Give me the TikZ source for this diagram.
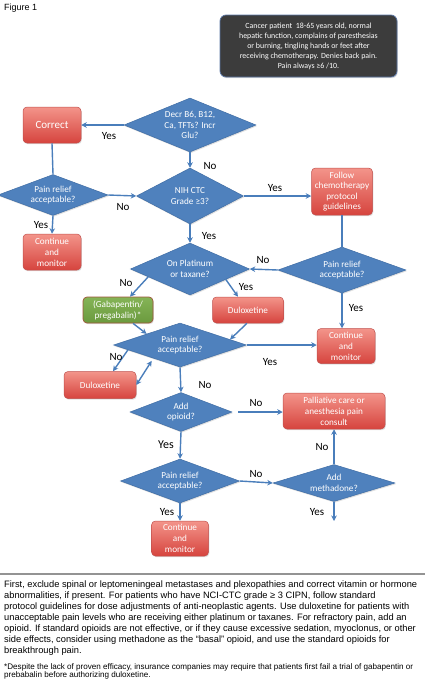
\documentclass[tikz,border=0pt]{standalone}
\usepackage{fontspec}
\setmainfont{Liberation Sans}
\newfontfamily\dfont{Carlito}
\usetikzlibrary{shapes.geometric,arrows.meta,calc,shadows}
\definecolor{dblue}{HTML}{4F81BD}
\definecolor{dblueb}{HTML}{3F6DA5}
\definecolor{arr}{HTML}{4A7EBB}
\definecolor{rtop}{HTML}{F3948A}
\definecolor{rbot}{HTML}{D6443E}
\definecolor{rbord}{HTML}{C0504D}
\definecolor{gtop}{HTML}{85B457}
\definecolor{gbot}{HTML}{6B9A3E}
\definecolor{gbord}{HTML}{A0553A}
\definecolor{darkbox}{HTML}{3C3C3C}
\definecolor{darkbord}{HTML}{5B77A6}
\tikzset{
  shd/.style={drop shadow={opacity=0.25,shadow xshift=0.8pt,shadow yshift=-1.2pt}},
  dia/.style={diamond, fill=dblue, draw=dblueb, line width=0.5pt, inner sep=0pt,
    text=white, align=center, font=\dfont\fontsize{9.2}{10.6}\selectfont, shd},
  rbox/.style={rectangle, rounded corners=4pt, top color=rtop, bottom color=rbot,
    draw=rbord, line width=0.5pt, text=white, align=center, inner sep=0pt,
    font=\dfont\fontsize{9.2}{11}\selectfont, shd},
  gbox/.style={rbox, top color=gtop, bottom color=gbot, draw=gbord, line width=0.7pt},
  conn/.style={draw=arr, line width=1.4pt, -{Stealth[length=5.5pt,width=5.5pt]}},
  plain/.style={draw=arr, line width=1.4pt},
  lbl/.style={font=\dfont\fontsize{11}{12}\selectfont, text=black, inner sep=0pt}
}
\begin{document}
\begin{tikzpicture}[x=1pt,y=-1pt]
\useasboundingbox (0,0) rectangle (425,691);
\fill[white] (0,0) rectangle (425,691);

\node[anchor=west, font=\fontsize{9}{10}\selectfont, inner sep=0pt] (fig) at (4,8) {Figure 1};

\node[rectangle, rounded corners=6pt, fill=darkbox, draw=darkbord, line width=0.7pt,
  minimum width=177pt, minimum height=62pt, text=white, align=center, inner sep=0pt,
  font=\dfont\fontsize{7.9}{10}\selectfont, shd] (info) at (308.5,46)
  {Cancer patient\ \ 18-65 years old, normal\\hepatic function, complains of paresthesias\\or burning, tingling hands or feet after\\receiving chemotherapy. Denies back pain.\\Pain always ≥6 /10.};

% diamonds
\node[dia, shape aspect=2.4, minimum width=132pt, minimum height=54pt] (d1) at (190,125) {Decr B6, B12,\\Ca, TFTs? Incr\\Glu?};
\node[dia, shape aspect=2.6, minimum width=110pt, minimum height=41pt] (pr1) at (53,195) {Pain relief\\acceptable?};
\node[dia, shape aspect=2.2, minimum width=107pt, minimum height=56pt] (nih) at (190,196) {NIH CTC\\Grade ≥3?};
\node[dia, shape aspect=2.6, minimum width=128pt, minimum height=46pt] (pr2) at (342,270) {Pain relief\\acceptable?};
\node[dia, shape aspect=2.3, minimum width=119pt, minimum height=52pt] (plat) at (190,269) {On Platinum\\or taxane?};
\node[dia, shape aspect=2.6, minimum width=133pt, minimum height=44pt] (pr3) at (180,345) {Pain relief\\acceptable?};
\node[dia, shape aspect=2.6, minimum width=102pt, minimum height=39pt] (op) at (181,412) {Add\\opioid?};
\node[dia, shape aspect=2.6, minimum width=119pt, minimum height=44pt] (pr4) at (180,481) {Pain relief\\acceptable?};
\node[dia, shape aspect=3.3, minimum width=122pt, minimum height=37pt] (meth) at (334,483) {Add\\methadone?};

% boxes
\node[rbox, minimum width=58pt, minimum height=36pt, font=\dfont\fontsize{11}{12}\selectfont] (correct) at (52,125) {Correct};
\node[rbox, minimum width=58pt, minimum height=36pt] (cont1) at (52,252) {Continue\\and\\monitor};
\node[rbox, minimum width=61pt, minimum height=47pt, font=\dfont\fontsize{9.2}{10.2}\selectfont] (follow) at (342,191.5) {Follow\\chemotherapy\\protocol\\guidelines};
\node[gbox, minimum width=70pt, minimum height=26pt] (gab) at (118,310) {(Gabapentin/\\pregabalin)*};
\node[rbox, minimum width=71pt, minimum height=26pt] (dul1) at (248,310) {Duloxetine};
\node[rbox, minimum width=58pt, minimum height=35pt] (cont2) at (346,346) {Continue\\and\\monitor};
\node[rbox, minimum width=72pt, minimum height=27pt] (dul2) at (100,385) {Duloxetine};
\node[rbox, minimum width=102pt, minimum height=36pt] (pal) at (334,411) {Palliative care or\\anesthesia pain\\consult};
\node[rbox, minimum width=57pt, minimum height=35pt] (cont3) at (180,538.5) {Continue\\and\\monitor};
\coordinate (mend) at (334,521);

% connectors
\draw[conn] (d1.west) -- (correct.east);
\draw[plain] (correct.south) -- (pr1.north);
\draw[conn] (pr1.east) -- (nih.west);
\draw[conn] (pr1.south) -- (cont1.north);
\draw[conn] (d1.south) -- (nih.north);
\draw[conn] (nih.east) -- (nih.east -| follow.west);
\draw[plain] (follow.south) -- (pr2.north);
\draw[conn] (pr2.west) -- (plat.east);
\draw[conn] (pr2.south) -- (pr2.south |- cont2.north);
\draw[conn] (nih.south) -- (plat.north);
\draw[conn] ($(plat.west)!0.3!(plat.south)$) -- ($(gab.north)+(12,0)$);
\draw[conn] ($(plat.east)!0.4!(plat.south)$) -- ($(dul1.north)+(-10,0)$);
\draw[conn] ($(gab.south)+(15,0)$) -- ($(pr3.west)!0.5!(pr3.north)$);
\draw[conn] ($(dul1.south)+(-1,0)$) -- ($(pr3.east)!0.25!(pr3.north)$);
\draw[conn] (pr3.east) -- (pr3.east -| cont2.west);
\draw[conn] ($(pr3.west)!0.22!(pr3.south)$) -- ($(dul2.north)+(13,0)$);
\draw[conn, {Stealth[length=5.5pt,width=5.5pt]}-{Stealth[length=5.5pt,width=5.5pt]}, shorten >=3pt] (dul2.east) -- ($(pr3.west)!0.6!(pr3.south)$);
\draw[conn] (pr3.south) -- (op.north);
\draw[conn, shorten <=6pt] (op.east) -- (op.east -| pal.west);
\draw[conn] (op.south) -- (pr4.north);
\draw[conn] (pr4.east) -- (meth.west);
\draw[conn] (meth.north) -- (meth.north |- pal.south);
\draw[conn] (meth.south) -- (mend);
\draw[conn] (pr4.south) -- (cont3.north);

% labels
\node[lbl] (l1) at (109,136) {Yes};
\node[lbl] (l2) at (123,207) {No};
\node[lbl] (l3) at (41,225) {Yes};
\node[lbl] (l4) at (210,166) {No};
\node[lbl] (l5) at (275,188) {Yes};
\node[lbl] (l6) at (263,260) {No};
\node[lbl] (l7) at (356,308) {Yes};
\node[lbl] (l8) at (209,236) {Yes};
\node[lbl] (l9) at (126,283) {No};
\node[lbl] (l10) at (246,287) {Yes};
\node[lbl] (l11) at (270,362) {Yes};
\node[lbl] (l12) at (116,357) {No};
\node[lbl] (l13) at (205,385) {No};
\node[lbl] (l14) at (256,403) {No};
\node[lbl, font=\dfont\fontsize{12}{13}\selectfont] (l15) at (166,445) {Yes};
\node[lbl] (l16) at (256,474) {No};
\node[lbl] (l17) at (322,447) {No};
\node[lbl] (l18) at (317,512) {Yes};
\node[lbl] (l19) at (167,512) {Yes};

% bottom rule and text
\draw[draw=gray!85, line width=1.4pt] (0,574) -- (425,574);
\node[anchor=north west, align=left, inner sep=0pt, font=\fontsize{9.3}{10.9}\selectfont] (para) at (4,581)
{First, exclude spinal or leptomeningeal metastases and plexopathies and correct vitamin or hormone\\
abnormalities, if present. For patients who have NCI-CTC grade ≥ 3 CIPN, follow standard\\
protocol guidelines for dose adjustments of anti-neoplastic agents. Use duloxetine for patients with\\
unacceptable pain levels who are receiving either platinum or taxanes. For refractory pain, add an\\
opioid. If standard opioids are not effective, or if they cause excessive sedation, myoclonus, or other\\
side effects, consider using methadone as the “basal” opioid, and use the standard opioids for\\
breakthrough pain.};
\node[anchor=north west, align=left, inner sep=0pt, font=\fontsize{8.1}{8.8}\selectfont] (foot) at (4,663)
{*Despite the lack of proven efficacy, insurance companies may require that patients first fail a trial of gabapentin or\\
prebabalin before authorizing duloxetine.};
\end{tikzpicture}
\end{document}
